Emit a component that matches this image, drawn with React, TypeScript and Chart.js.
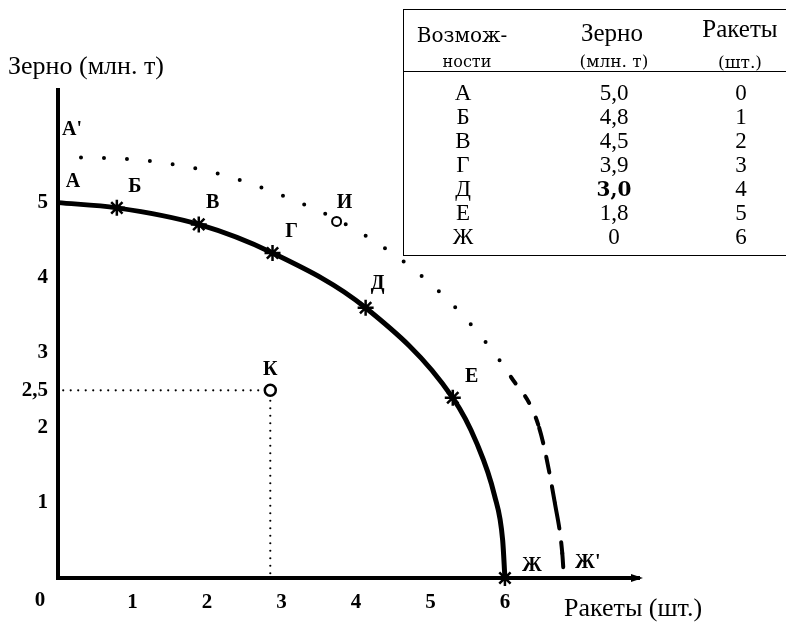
import React, { useEffect, useRef } from 'react';
import { Chart, registerables } from 'chart.js';

Chart.register(...registerables);

// ---------- Data ----------
const possibilities = ['А', 'Б', 'В', 'Г', 'Д', 'Е', 'Ж'];
const grainTable = [5.0, 4.8, 4.5, 3.9, 3.0, 1.8, 0];
const rocketsTable = [0, 1, 2, 3, 4, 5, 6];

// production possibility frontier as drawn on the graph
const frontierX = [0, 0.79, 1.89, 2.88, 4.13, 5.3, 5.62, 5.86, 5.97, 6.0];
const frontierY = [5.0, 4.93, 4.71, 4.33, 3.6, 2.4, 1.8, 1.1, 0.5, 0];
const frontierNames = ['А', 'Б', 'В', 'Г', 'Д', 'Е', '', '', '', 'Ж'];

// shifted (dotted) frontier А' – Ж'
const outerX = [0, 1.18, 2.13, 3.05, 3.92, 4.75, 5.45, 6.08, 6.46, 6.67, 6.77, 6.79];
const outerY = [5.61, 5.56, 5.39, 5.08, 4.68, 4.13, 3.48, 2.68, 2.0, 1.0, 0.33, 0.03];
const outerNames = ["А'", '', '', '', '', '', '', '', '', '', '', "Ж'"];

const pointK = { name: 'К', x: 2.85, y: 2.5 };
const pointI = { name: 'И', x: 3.74, y: 4.75 };

const xTicks = [1, 2, 3, 4, 5, 6];
const yTicks = [1, 2, 2.5, 3, 4, 5];

const xTitle = 'Ракеты (шт.)';
const yTitle = 'Зерно (млн. т)';

// ---------- Styles ----------
const labelOffsets: Record<string, [number, number]> = {
  'А': [15, -21],
  'Б': [18, -21],
  'В': [14, -22],
  'Г': [19, -21],
  'Д': [12, -24],
  'Е': [19, -21],
  'Ж': [27, -12],
  "А'": [14, -27],
  "Ж'": [24, -13],
  'К': [0, -20],
  'И': [8, -19],
};
const outerDashes: number[][] = [
  [0, 23], [0, 23], [0, 23], [0, 23], [0, 23], [0, 23], [0, 23],
  [8, 16], [16, 14], [26, 14], [14, 10],
];

const fmt = (v: number) => (v === 0 ? '0' : v.toFixed(1).replace('.', ','));

const labelPlugin = {
  id: 'pointLabels',
  afterDatasetsDraw(chart: any) {
    const { ctx, scales } = chart;
    const xs = scales.x;
    const ys = scales.y;
    ctx.save();
    ctx.fillStyle = '#000';
    ctx.textAlign = 'center';
    ctx.textBaseline = 'middle';
    ctx.font = 'bold 20px "Liberation Serif"';
    const put = (name: string, x: number, y: number) => {
      if (!name) return;
      const off = labelOffsets[name] || [0, -18];
      ctx.fillText(name, xs.getPixelForValue(x) + off[0], ys.getPixelForValue(y) + off[1]);
    };
    frontierNames.forEach((n, i) => put(n, frontierX[i], frontierY[i]));
    outerNames.forEach((n, i) => put(n, outerX[i], outerY[i]));
    put(pointK.name, pointK.x, pointK.y);
    put(pointI.name, pointI.x, pointI.y);
    // origin label
    ctx.font = 'bold 21px "Liberation Serif"';
    ctx.fillText('0', xs.getPixelForValue(0) - 18, ys.getPixelForValue(0) + 23);
    // arrow head on x axis
    const ax = xs.right;
    const ay = ys.getPixelForValue(0);
    ctx.beginPath();
    ctx.moveTo(ax + 4, ay);
    ctx.lineTo(ax - 8, ay - 4);
    ctx.lineTo(ax - 8, ay + 4);
    ctx.closePath();
    ctx.fill();
    ctx.restore();
  },
};

export default function App() {
  const ref = useRef<HTMLCanvasElement>(null);

  useEffect(() => {
    document.body.style.margin = '0';
    if (!ref.current) return;
    const tickFont = { family: '"Liberation Serif"', size: 21, weight: 'bold' as const };
    const chart = new Chart(ref.current, {
      type: 'scatter',
      data: {
        datasets: [
          {
            label: 'К',
            data: [{ x: pointK.x, y: pointK.y }],
            pointRadius: 5.5,
            pointBorderWidth: 2.5,
            pointBorderColor: '#000',
            pointBackgroundColor: '#fff',
            clip: false,
          } as any,
          {
            label: 'И',
            data: [{ x: pointI.x, y: pointI.y }],
            pointRadius: 4.5,
            pointBorderWidth: 2,
            pointBorderColor: '#000',
            pointBackgroundColor: '#fff',
            clip: false,
          },
          {
            label: 'frontier',
            data: frontierX.map((x, i) => ({ x, y: frontierY[i] })),
            showLine: true,
            borderColor: '#000',
            borderWidth: 5,
            cubicInterpolationMode: 'monotone',
            pointStyle: 'star',
            pointRadius: frontierNames.map((n) => (n && n !== 'А' ? 8 : 0)),
            pointBorderWidth: 2.5,
            pointBorderColor: '#000',
            pointBackgroundColor: '#000',
            clip: false,
          },
          {
            label: 'outer',
            data: outerX.map((x, i) => ({ x, y: outerY[i] })),
            showLine: true,
            borderColor: '#000',
            borderWidth: 4,
            borderCapStyle: 'round',
            cubicInterpolationMode: 'monotone',
            pointRadius: 0,
            segment: {
              borderDash: (c: any) => outerDashes[c.p0DataIndex] || [0, 23],
            },
            clip: false,
          },
          {
            label: 'guides',
            data: [
              { x: 0.07, y: pointK.y },
              { x: pointK.x, y: pointK.y },
              { x: pointK.x, y: 0.03 },
            ],
            showLine: true,
            borderColor: '#000',
            borderWidth: 2.2,
            borderCapStyle: 'round',
            borderDash: [0, 7.5],
            pointRadius: 0,
            clip: false,
          },
        ],
      },
      options: {
        responsive: false,
        animation: false,
        events: [],
        layout: { padding: { top: 90, right: 147, left: 0, bottom: 0 } },
        plugins: {
          legend: { display: false },
          tooltip: { enabled: false },
          title: { display: false },
        },
        scales: {
          x: {
            type: 'linear',
            min: 0,
            max: 7.8,
            grid: { display: false, drawTicks: false },
            border: { display: true, color: '#000', width: 4 },
            afterBuildTicks: (s: any) => {
              s.ticks = xTicks.map((v) => ({ value: v }));
            },
            afterFit: (s: any) => {
              s.height = 45;
            },
            ticks: {
              padding: 12,
              color: '#000',
              font: tickFont,
              maxRotation: 0,
              autoSkip: false,
              callback: (v: any) => String(v),
            },
          },
          y: {
            type: 'linear',
            min: 0,
            max: 6.5,
            grid: { display: false, drawTicks: false },
            border: { display: true, color: '#000', width: 4 },
            afterBuildTicks: (s: any) => {
              s.ticks = yTicks.map((v) => ({ value: v }));
            },
            afterFit: (s: any) => {
              s.width = 58;
            },
            ticks: {
              padding: 10,
              color: '#000',
              font: tickFont,
              autoSkip: false,
              callback: (v: any) => String(v).replace('.', ','),
            },
          },
        },
      },
      plugins: [labelPlugin],
    });
    return () => chart.destroy();
  }, []);

  const colCenters = [463, 614, 741];
  const firstRow = 93;
  const rowH = 24;
  const cell = (text: string, cx: number, cy: number, style: React.CSSProperties = {}) => (
    <div
      key={text + cx + cy}
      style={{
        position: 'absolute',
        left: cx - 70,
        width: 140,
        top: cy - 14,
        height: 28,
        lineHeight: '28px',
        textAlign: 'center',
        whiteSpace: 'nowrap',
        fontFamily: '"Liberation Serif", serif',
        fontSize: 23,
        color: '#000',
        ...style,
      }}
    >
      {text}
    </div>
  );

  return (
    <div style={{ position: 'relative', width: 786, height: 623, overflow: 'hidden', background: '#fff' }}>
      <canvas ref={ref} width={786} height={623} style={{ position: 'absolute', left: 0, top: 0, width: 786, height: 623 }} />
      <div
        style={{
          position: 'absolute',
          left: 8,
          top: 52,
          fontFamily: '"Liberation Serif", serif',
          fontSize: 26,
          lineHeight: '28px',
          whiteSpace: 'nowrap',
          color: '#000',
        }}
      >
        {yTitle}
      </div>
      <div
        style={{
          position: 'absolute',
          left: 564,
          top: 594,
          fontFamily: '"Liberation Serif", serif',
          fontSize: 26,
          lineHeight: '28px',
          whiteSpace: 'nowrap',
          color: '#000',
        }}
      >
        {xTitle}
      </div>
      {/* table */}
      <div
        style={{
          position: 'absolute',
          left: 403,
          top: 9,
          width: 420,
          height: 245,
          borderTop: '1.5px solid #000',
          borderLeft: '1.5px solid #000',
          borderBottom: '1.5px solid #000',
          background: '#fff',
        }}
      />
      <div style={{ position: 'absolute', left: 403, top: 71, width: 420, borderTop: '1.5px solid #000' }} />
      {cell('Возмож-', 462, 35, { fontFamily: '"DejaVu Serif", serif', fontSize: 20 })}
      {cell('ности', 467, 62, { fontFamily: '"DejaVu Serif", serif', fontSize: 16 })}
      {cell('Зерно', 612, 33, { fontSize: 25 })}
      {cell('(млн. т)', 614, 61, { fontFamily: '"DejaVu Serif", serif', fontSize: 17 })}
      {cell('Ракеты', 740, 29, { fontSize: 25 })}
      {cell('(шт.)', 740, 62, { fontFamily: '"DejaVu Serif", serif', fontSize: 17 })}
      {possibilities.map((p, i) => cell(p, colCenters[0], firstRow + i * rowH))}
      {grainTable.map((g, i) =>
        cell(
          fmt(g),
          colCenters[1],
          firstRow + i * rowH,
          g === 3.0 ? { fontFamily: '"DejaVu Serif", serif', fontWeight: 'bold', fontSize: 20 } : {}
        )
      )}
      {rocketsTable.map((r, i) => cell(String(r), colCenters[2], firstRow + i * rowH))}
    </div>
  );
}
